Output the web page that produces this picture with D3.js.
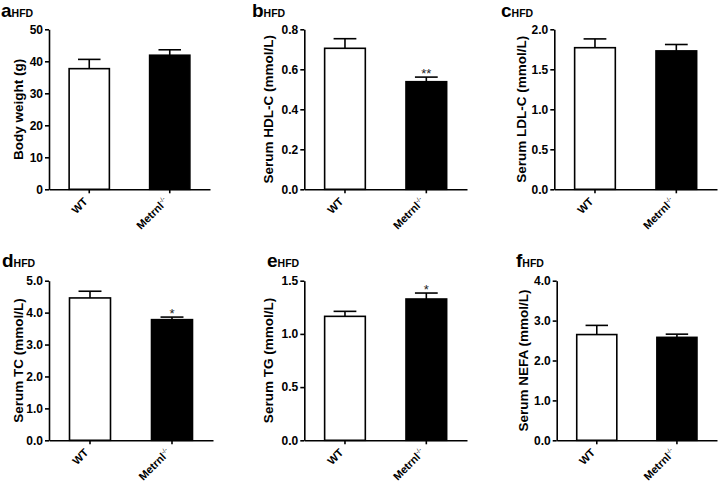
<!DOCTYPE html>
<html>
<head>
<meta charset="utf-8">
<script src="https://cdn.jsdelivr.net/npm/d3@7"></script>
<style>
  html, body { margin: 0; padding: 0; background: #fff; }
  svg { display: block; font-family: "Liberation Sans", Arial, sans-serif; }
</style>
</head>
<body>
<svg id="chart" width="718" height="486"></svg>
<script>
// ---------- data ----------
const groups = ["WT", "Metrnl"];
const panelLetters = ["a", "b", "c", "d", "e", "f"];
const panelTag = "HFD";
const yTitles = ["Body weight (g)", "Serum HDL-C (mmol/L)", "Serum LDL-C (mmol/L)",
                 "Serum TC (mmol/L)", "Serum TG (mmol/L)", "Serum NEFA (mmol/L)"];
const bodyWeightMean = [37.7, 41.9];
const bodyWeightSem  = [2.9, 1.7];
const hdlMean = [0.705, 0.538];
const hdlSem  = [0.048, 0.023];
const ldlMean = [1.77, 1.73];
const ldlSem  = [0.11, 0.08];
const tcMean = [4.46, 3.78];
const tcSem  = [0.21, 0.08];
const tgMean = [1.165, 1.328];
const tgSem  = [0.047, 0.056];
const nefaMean = [2.65, 2.58];
const nefaSem  = [0.23, 0.08];
const significance = ["", "**", "", "*", "*", ""];
const yMaxes = [50, 0.8, 2.0, 5.0, 1.5, 4.0];
const yTicks = [[0, 10, 20, 30, 40, 50], [0, 0.2, 0.4, 0.6, 0.8], [0, 0.5, 1.0, 1.5, 2.0],
                [0, 1, 2, 3, 4, 5], [0, 0.5, 1.0, 1.5], [0, 1, 2, 3, 4]];
const tickDecimals = [0, 1, 1, 1, 1, 1];

const means = [bodyWeightMean, hdlMean, ldlMean, tcMean, tgMean, nefaMean];
const sems = [bodyWeightSem, hdlSem, ldlSem, tcSem, tgSem, nefaSem];

// ---------- layout ----------
const frames = [
  { x0: 49,    x1: 210, y0: 29.3,  y1: 189.3, lx: 1,   ly: 17,  tx: 18 },
  { x0: 304.3, x1: 467, y0: 29.3,  y1: 189.3, lx: 252, ly: 17,  tx: 268 },
  { x0: 554.3, x1: 717, y0: 29.3,  y1: 189.3, lx: 501, ly: 17,  tx: 521 },
  { x0: 49,    x1: 213, y0: 280.7, y1: 440.3, lx: 2,   ly: 267, tx: 18 },
  { x0: 304.3, x1: 467, y0: 280.7, y1: 440.3, lx: 267, ly: 267, tx: 268 },
  { x0: 556.7, x1: 717, y0: 280.7, y1: 440.3, lx: 516, ly: 267, tx: 523 }
];
const fills = ["#ffffff", "#000000"];

const svg = d3.select("#chart");

frames.forEach((f, i) => {
  const g = svg.append("g");
  const x = d3.scaleBand().domain(groups).range([f.x0, f.x1]).paddingInner(0.5).paddingOuter(0.25);
  const y = d3.scaleLinear().domain([0, yMaxes[i]]).range([f.y1, f.y0]);

  const data = groups.map((k, j) => ({ k, m: means[i][j], s: sems[i][j], fill: fills[j] }));
  // error bars (upper only)
  const eb = g.append("g");
  data.forEach(d => {
    const cx = x(d.k) + x.bandwidth() / 2;
    const capW = x.bandwidth() * 0.28;
    eb.append("line").attr("x1", cx).attr("x2", cx)
      .attr("y1", y(d.m)).attr("y2", y(d.m + d.s))
      .attr("stroke", "#000").attr("stroke-width", 1.6);
    eb.append("line").attr("x1", cx - capW).attr("x2", cx + capW)
      .attr("y1", y(d.m + d.s)).attr("y2", y(d.m + d.s))
      .attr("stroke", "#000").attr("stroke-width", 1.6);
  });
  g.selectAll("rect.bar").data(data).enter().append("rect")
    .attr("class", "bar")
    .attr("x", d => x(d.k))
    .attr("width", x.bandwidth())
    .attr("y", d => y(d.m))
    .attr("height", d => y(0) - y(d.m))
    .attr("fill", d => d.fill)
    .attr("stroke", "#000").attr("stroke-width", 1.6);

  // significance
  if (significance[i]) {
    const d = data[1];
    g.append("text")
      .attr("x", x(d.k) + x.bandwidth() / 2)
      .attr("y", y(d.m + d.s) + 1)
      .attr("text-anchor", "middle")
      .attr("font-size", 13)
      .attr("fill", "#222")
      .text(significance[i]);
  }

  // y axis
  const fmt = d3.format("." + tickDecimals[i] + "f");
  const yAxis = g.append("g").attr("transform", `translate(${f.x0},0)`)
    .call(d3.axisLeft(y).tickValues(yTicks[i]).tickFormat(fmt).tickSize(4).tickSizeOuter(0).tickPadding(2));
  yAxis.select(".domain").attr("stroke-width", 1.6);
  yAxis.selectAll(".tick line").attr("stroke-width", 1.6);
  yAxis.selectAll("text").attr("font-size", 12).attr("font-weight", "bold")
    .attr("font-family", "Liberation Sans, Arial, sans-serif").attr("fill", "#000");

  // x axis
  const xAxis = g.append("g").attr("transform", `translate(0,${f.y1})`)
    .call(d3.axisBottom(x).tickSize(4).tickSizeOuter(0).tickFormat(""));
  xAxis.select(".domain").attr("stroke-width", 1.6);
  xAxis.selectAll(".tick line").attr("stroke-width", 1.6);
  xAxis.selectAll(".tick text").remove();

  // x labels rotated -45deg
  groups.forEach(k => {
    const cx = x(k) + x.bandwidth() / 2;
    const t = g.append("text")
      .attr("transform", "translate(" + (cx - 1) + "," + (f.y1 + 13) + ") rotate(-45)")
      .attr("text-anchor", "end")
      .attr("font-size", 11).attr("font-weight", "bold").attr("fill", "#000");
    if (k === "Metrnl") {
      t.append("tspan").text("Metrnl");
      t.append("tspan").attr("font-size", 6.5).attr("font-weight", "normal").attr("dy", -4.5).text("-/-");
    } else {
      t.text(k);
    }
  });

  // y title
  g.append("text")
    .attr("transform", `translate(${f.tx},${(f.y0 + f.y1) / 2}) rotate(-90)`)
    .attr("text-anchor", "middle")
    .attr("dominant-baseline", "central")
    .attr("font-size", 13.5).attr("font-weight", "bold").attr("fill", "#000")
    .text(yTitles[i]);

  // panel letter
  const pl = g.append("text").attr("x", f.lx).attr("y", f.ly)
    .attr("font-weight", "bold").attr("fill", "#000");
  pl.append("tspan").attr("font-size", 19).text(panelLetters[i]);
  pl.append("tspan").attr("font-size", 10.5).text(panelTag);
});
</script>
</body>
</html>
